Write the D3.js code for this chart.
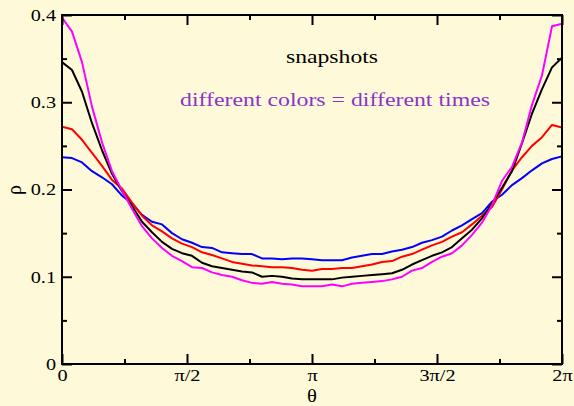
<!DOCTYPE html>
<html>
<head>
<meta charset="utf-8">
<script src="https://cdn.jsdelivr.net/npm/d3@7"></script>
<style>
  html, body { margin: 0; padding: 0; background: #fefad9; }
  svg { display: block; font-family: "Liberation Serif", "Times New Roman", serif; }
</style>
</head>
<body>
<svg id="chart" width="574" height="406"></svg>
<script>
// angle samples, in units of pi
const thetaPi = [0, 0.04, 0.08, 0.12, 0.16, 0.2, 0.24, 0.28, 0.32, 0.36,
  0.4, 0.44, 0.48, 0.52, 0.56, 0.6, 0.64, 0.68, 0.72, 0.76,
  0.8, 0.84, 0.88, 0.92, 0.96, 1.0, 1.04, 1.08, 1.12, 1.16,
  1.2, 1.24, 1.28, 1.32, 1.36, 1.4, 1.44, 1.48, 1.52, 1.56,
  1.6, 1.64, 1.68, 1.72, 1.76, 1.8, 1.84, 1.88, 1.92, 1.96, 2.0];

// density snapshots at four times
const rhoMagenta = [0.397, 0.381, 0.346, 0.295, 0.254, 0.221, 0.199, 0.178, 0.158, 0.144,
  0.133, 0.124, 0.118, 0.111, 0.110, 0.105, 0.102, 0.100, 0.096, 0.093,
  0.092, 0.094, 0.092, 0.091, 0.089, 0.089, 0.089, 0.091, 0.089, 0.092,
  0.093, 0.094, 0.095, 0.097, 0.100, 0.107, 0.110, 0.117, 0.123, 0.127,
  0.136, 0.148, 0.162, 0.182, 0.210, 0.226, 0.254, 0.297, 0.331, 0.387, 0.390];

const rhoBlack = [0.346, 0.337, 0.312, 0.276, 0.245, 0.218, 0.198, 0.181, 0.163, 0.151,
  0.140, 0.132, 0.127, 0.124, 0.116, 0.112, 0.110, 0.108, 0.106, 0.105,
  0.100, 0.101, 0.100, 0.098, 0.097, 0.097, 0.097, 0.097, 0.099, 0.100,
  0.101, 0.102, 0.103, 0.104, 0.108, 0.114, 0.119, 0.124, 0.128, 0.134,
  0.144, 0.154, 0.167, 0.184, 0.202, 0.221, 0.253, 0.287, 0.315, 0.340, 0.351];

const rhoRed = [0.272, 0.269, 0.257, 0.242, 0.227, 0.211, 0.201, 0.185, 0.170, 0.159,
  0.152, 0.144, 0.138, 0.134, 0.128, 0.125, 0.121, 0.117, 0.115, 0.113,
  0.112, 0.111, 0.111, 0.110, 0.108, 0.107, 0.109, 0.109, 0.110, 0.110,
  0.112, 0.114, 0.117, 0.118, 0.123, 0.126, 0.131, 0.136, 0.140, 0.146,
  0.151, 0.160, 0.170, 0.180, 0.200, 0.222, 0.237, 0.250, 0.260, 0.274, 0.271];

const rhoBlue = [0.237, 0.236, 0.231, 0.221, 0.214, 0.206, 0.193, 0.184, 0.171, 0.163,
  0.160, 0.150, 0.143, 0.139, 0.134, 0.133, 0.128, 0.127, 0.126, 0.126,
  0.121, 0.121, 0.120, 0.121, 0.121, 0.120, 0.119, 0.119, 0.119, 0.122,
  0.124, 0.126, 0.126, 0.129, 0.131, 0.134, 0.139, 0.142, 0.146, 0.153,
  0.159, 0.166, 0.173, 0.186, 0.194, 0.205, 0.213, 0.222, 0.230, 0.235, 0.238];

const seriesColors = ["#0000ff", "#ff0000", "#000000", "#ff00ff"];
const seriesValues = [rhoBlue, rhoRed, rhoBlack, rhoMagenta];

// axis ticks
const xMajorPi = [0, 0.5, 1, 1.5, 2];
const xMajorLabels = ["0", "\u03c0/2", "\u03c0", "3\u03c0/2", "2\u03c0"];
const xMinorPi = [0.25, 0.75, 1.25, 1.75];
const yMajor = [0, 0.1, 0.2, 0.3, 0.4];
const yMajorLabels = ["0", "0.1", "0.2", "0.3", "0.4"];
const yMinor = [0.05, 0.15, 0.25, 0.35];

const svg = d3.select("#chart");
const plotLeft = 62, plotRight = 562, plotTop = 15, plotBottom = 364;

const x = d3.scaleLinear().domain([0, 2 * Math.PI]).range([plotLeft, plotRight]);
const y = d3.scaleLinear().domain([0, 0.4]).range([plotBottom, plotTop]);

// glyphs in this plot are a bit wide, stretch text horizontally
function stretch(sel, k) {
  sel.each(function () {
    const w = this.getComputedTextLength();
    d3.select(this).attr("textLength", w * k).attr("lengthAdjust", "spacingAndGlyphs");
  });
}

function styleAxis(g) {
  g.select(".domain").remove();
  g.selectAll(".tick line").attr("stroke", "#000").attr("stroke-width", 2);
  g.selectAll("text")
    .attr("fill", "#000")
    .style("font-family", "'Liberation Serif', 'Times New Roman', serif")
    .style("font-size", "17px");
}

// curves
const line = d3.line()
  .x((d, i) => x(thetaPi[i] * Math.PI))
  .y(d => y(d));

seriesValues.forEach((vals, k) => {
  svg.append("path")
    .datum(vals)
    .attr("fill", "none")
    .attr("stroke", seriesColors[k])
    .attr("stroke-width", 2)
    .attr("stroke-linejoin", "round")
    .attr("d", line);
});

// bottom axis with labels
const xb = svg.append("g")
  .attr("transform", `translate(0,${plotBottom})`)
  .call(d3.axisBottom(x)
    .tickValues(xMajorPi.map(d => d * Math.PI))
    .tickFormat((d, i) => xMajorLabels[i])
    .tickSizeInner(-10).tickSizeOuter(0).tickPadding(5));
styleAxis(xb);
stretch(xb.selectAll("text"), 1.19);

svg.append("g")
  .attr("transform", `translate(0,${plotBottom})`)
  .call(d3.axisBottom(x).tickValues(xMinorPi.map(d => d * Math.PI))
    .tickFormat("").tickSizeInner(-5).tickSizeOuter(0))
  .call(styleAxis);

// top mirror ticks
svg.append("g")
  .attr("transform", `translate(0,${plotTop})`)
  .call(d3.axisTop(x).tickValues(xMajorPi.map(d => d * Math.PI))
    .tickFormat("").tickSizeInner(-10).tickSizeOuter(0))
  .call(styleAxis);
svg.append("g")
  .attr("transform", `translate(0,${plotTop})`)
  .call(d3.axisTop(x).tickValues(xMinorPi.map(d => d * Math.PI))
    .tickFormat("").tickSizeInner(-5).tickSizeOuter(0))
  .call(styleAxis);

// left axis with labels
const yl = svg.append("g")
  .attr("transform", `translate(${plotLeft},0)`)
  .call(d3.axisLeft(y)
    .tickValues(yMajor)
    .tickFormat((d, i) => yMajorLabels[i])
    .tickSizeInner(-10).tickSizeOuter(0).tickPadding(6));
styleAxis(yl);
stretch(yl.selectAll("text"), 1.19);

svg.append("g")
  .attr("transform", `translate(${plotLeft},0)`)
  .call(d3.axisLeft(y).tickValues(yMinor)
    .tickFormat("").tickSizeInner(-5).tickSizeOuter(0))
  .call(styleAxis);

// right mirror ticks
svg.append("g")
  .attr("transform", `translate(${plotRight},0)`)
  .call(d3.axisRight(y).tickValues(yMajor)
    .tickFormat("").tickSizeInner(-10).tickSizeOuter(0))
  .call(styleAxis);
svg.append("g")
  .attr("transform", `translate(${plotRight},0)`)
  .call(d3.axisRight(y).tickValues(yMinor)
    .tickFormat("").tickSizeInner(-5).tickSizeOuter(0))
  .call(styleAxis);

// frame
svg.append("rect")
  .attr("x", plotLeft).attr("y", plotTop)
  .attr("width", plotRight - plotLeft).attr("height", plotBottom - plotTop)
  .attr("fill", "none")
  .attr("stroke", "#000")
  .attr("stroke-width", 2);

// axis titles
const xt = svg.append("text")
  .attr("x", x(Math.PI)).attr("y", 402)
  .attr("text-anchor", "middle")
  .style("font-size", "18px")
  .text("\u03b8");
stretch(xt, 1.15);

svg.append("text")
  .attr("transform", "translate(21,190) rotate(-90)")
  .attr("text-anchor", "middle")
  .style("font-size", "20px")
  .text("\u03c1");

// annotations
svg.append("text")
  .attr("x", 332).attr("y", 63)
  .attr("text-anchor", "middle")
  .style("font-size", "19px")
  .attr("fill", "#000")
  .attr("textLength", 92).attr("lengthAdjust", "spacingAndGlyphs")
  .text("snapshots");

svg.append("text")
  .attr("x", 335).attr("y", 106)
  .attr("text-anchor", "middle")
  .style("font-size", "19px")
  .attr("fill", "#8b35c8")
  .attr("textLength", 310).attr("lengthAdjust", "spacingAndGlyphs")
  .text("different colors = different times");
</script>
</body>
</html>
